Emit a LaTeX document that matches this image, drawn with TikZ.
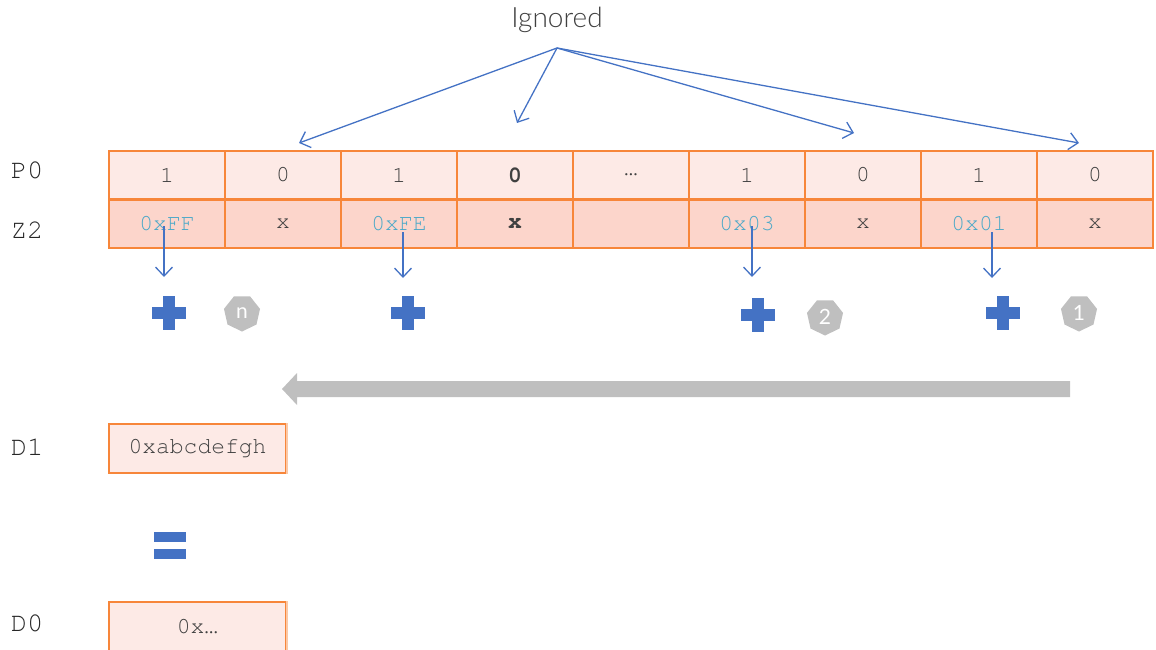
\documentclass[tikz,border=0pt]{standalone}
\usepackage{fontspec}
\setmainfont{Lato}
\newfontfamily\lightfont{Lato Light}
\newfontfamily\mono{texgyrecursor}[Extension=.otf,UprightFont=*-regular,BoldFont=*-bold]
\usetikzlibrary{arrows.meta,shapes.geometric}
\definecolor{cellline}{RGB}{247,134,58}
\definecolor{toprow}{RGB}{253,234,230}
\definecolor{botrow}{RGB}{252,213,203}
\definecolor{txtgray}{RGB}{64,64,64}
\definecolor{hexblue}{RGB}{75,168,200}
\definecolor{arrblue}{RGB}{68,114,196}
\definecolor{badgegray}{RGB}{191,191,191}

\begin{document}
\begin{tikzpicture}[x=1pt,y=-1pt,
  cell/.style={draw=cellline,line width=2pt,minimum width=116pt,minimum height=48pt,
    inner sep=0pt,font=\mono\fontsize{23}{23}\selectfont,text=txtgray},
  dbox/.style={cell,fill=toprow,minimum width=177pt,minimum height=49pt},
  reg/.style={font=\mono\fontsize{27}{27}\selectfont,text=black!85},
  badge/.style={regular polygon,regular polygon sides=7,regular polygon rotate=180,
    fill=badgegray,minimum size=37pt,inner sep=0pt,text=white,font=\fontsize{21}{21}\selectfont},
  ptr/.style={draw=arrblue,line width=1.3pt,-{Straight Barb[length=9pt,width=17pt]}}]
\useasboundingbox (0,0) rectangle (1156,650);

\coordinate (src) at (557,48);
\coordinate (t1) at (299,143);
\coordinate (t2) at (517,123);
\coordinate (t3) at (854,133);
\coordinate (t4) at (1079,143);

% register rows
\foreach \t [count=\i] in {1,0,1,\textbf{0},…,1,0,1,0}
  \node[cell,fill=toprow] (p\i) at (51+116*\i,175) {\t};
\foreach \t/\c [count=\i] in {0xFF/hexblue,x/txtgray,0xFE/hexblue,\textbf{x}/txtgray,/txtgray,
    0x03/hexblue,x/txtgray,0x01/hexblue,x/txtgray}
  \node[cell,fill=botrow,text=\c] (z\i) at (51+116*\i,223.5) {\t};

\node[reg] (P0) at (27,170) {P0};
\node[reg] (Z2) at (27,230) {Z2};
\node[reg] (D1) at (27,447) {D1};
\node[reg] (D0) at (27,623) {D0};

% ignored lanes
\node[font=\lightfont\fontsize{28}{28}\selectfont,text=txtgray] (ign) at (557,20) {Ignored};
\foreach \i in {1,...,4}
  \draw[ptr] (src) -- (t\i);

% active lanes
\coordinate (a1) at (164,226);
\coordinate (a3) at (403,232);
\coordinate (a6) at (752,226);
\coordinate (a8) at (992,232);
\draw[ptr] (a1) -- (a1 |- 0,277);
\draw[ptr] (a3) -- (a3 |- 0,278);
\draw[ptr] (a6) -- (a6 |- 0,277);
\draw[ptr] (a8) -- (a8 |- 0,278);

\foreach \x/\y in {169/313,408/313,758/315,1003/313} {
  \fill[arrblue] (\x-17,\y-6) rectangle (\x+17,\y+6);
  \fill[arrblue] (\x-6,\y-17) rectangle (\x+6,\y+17);
}
\node[badge] (bn) at (242,313) {n};
\node[badge] (b2) at (825,317) {2};
\node[badge] (b1) at (1079,313) {1};

% accumulate direction
\fill[badgegray] (1070,381) -- (297,381) -- (297,373) -- (282,389)
  -- (297,405) -- (297,397) -- (1070,397) -- cycle;

% result
\node[dbox] (d1) at (197.5,448.5) {0xabcdefgh};
\draw[cellline!45,line width=2pt] (d1.north east) -- (d1.south east);
\fill[arrblue] (154,532) rectangle (186,542);
\fill[arrblue] (154,549) rectangle (186,559);
\node[dbox] (d0) at (197.5,626.5) {0x…};
\draw[cellline!45,line width=2pt] (d0.north east) -- (d0.south east);
\end{tikzpicture}
\end{document}
